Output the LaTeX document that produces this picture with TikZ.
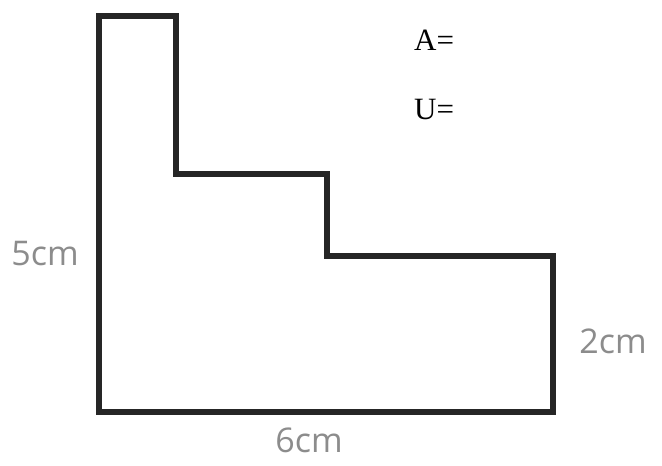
\documentclass[tikz,border=0pt]{standalone}
\usepackage{fontspec}
\setmainfont{Liberation Serif}
\newfontfamily\handfont{Open Sans}
\begin{document}
\begin{tikzpicture}[x=1pt,y=-1pt,
  shapeline/.style={line width=6pt,draw=black!85,line join=miter},
  typed/.style={font=\fontsize{31}{36}\selectfont,text=black,inner sep=0pt},
  hand/.style={font=\handfont\fontsize{34}{40}\selectfont,text=black!45,inner sep=0pt}]
\useasboundingbox (0,0) rectangle (662,466);
\fill[white] (0,0) rectangle (662,466);
\coordinate (p1) at (99,16);
\coordinate (p2) at (176,16);
\coordinate (p3) at (176,174);
\coordinate (p4) at (327,174);
\coordinate (p5) at (327,256);
\coordinate (p6) at (553,256);
\coordinate (p7) at (553,412);
\coordinate (p8) at (99,412);
\draw[shapeline] (p1) -- (p2) -- (p3) -- (p4) -- (p5) -- (p6) -- (p7) -- (p8) -- cycle;
\node[typed,anchor=west] (A) at (414,40) {A=};
\node[typed,anchor=west] (U) at (414,110) {U=};
\node[hand] (h5) at (45,254) {5cm};
\node[hand] (h2) at (613,341) {2cm};
\node[hand] (h6) at (309,440) {6cm};
\end{tikzpicture}
\end{document}
